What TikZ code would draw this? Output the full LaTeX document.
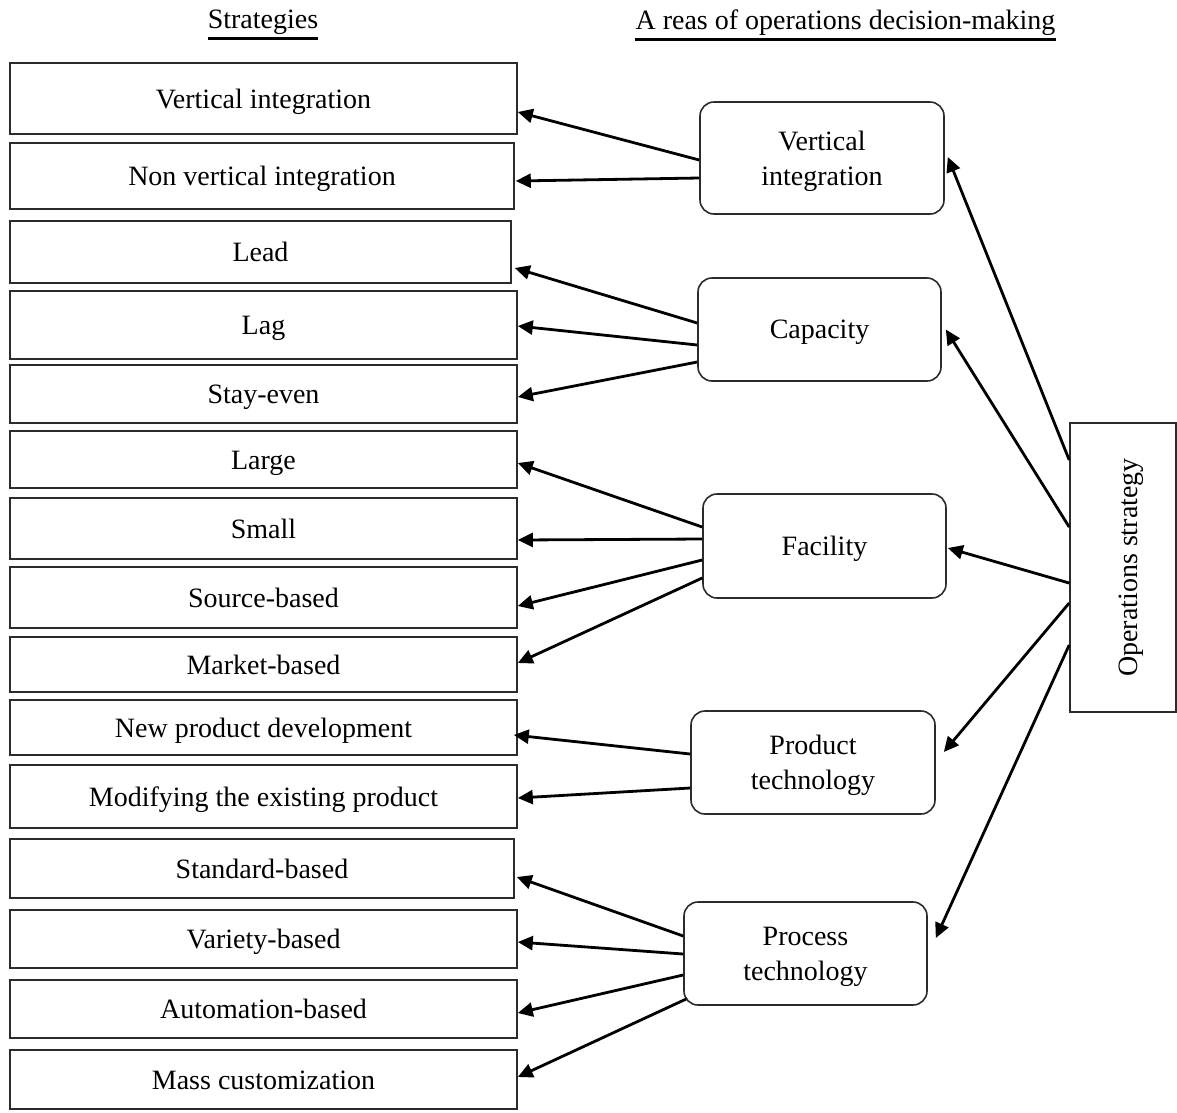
\documentclass[tikz,border=0pt]{standalone}
\usepackage{fontspec}
\setmainfont{Liberation Serif}
\usepackage{tikz}
\usetikzlibrary{positioning, arrows.meta, calc}
\definecolor{boxline}{HTML}{2b2b2b}
\newcommand{\txtsize}{\fontsize{28}{35}\selectfont}

\begin{document}
\begin{tikzpicture}[x=1pt, y=-1pt, sbox/.style={draw=boxline, line width=1.6pt, minimum width=507pt, inner sep=0pt, text height=19pt, text depth=0pt, font=\txtsize}, abox/.style={draw=boxline, line width=1.6pt, rounded corners=14pt, minimum width=243pt, minimum height=103pt, align=center, inner sep=0pt, text depth=0pt, font=\txtsize}, hdr/.style={inner sep=0pt, font=\txtsize}, arr/.style={-{Triangle[length=15pt, width=14pt]}, line width=2.8pt}]
\useasboundingbox (0,0) rectangle (1177,1112);
\node[hdr] (hs) at (263,22.5) {Strategies};
\node[hdr] (ha) at (845.5,22.5) {A reas of operations decision-making};
\draw[line width=2.6pt] ($(hs.base west)+(0,10)$) -- ($(hs.base east)+(0,10)$); \draw[line width=2.6pt] ($(ha.base west)+(0,10)$) -- ($(ha.base east)+(0,10)$);
\node[sbox, minimum height=71pt] (s1) at (263.5,98.5) {Vertical integration};
\node[sbox, minimum height=66pt, minimum width=504pt] (s2) at (262,176) {Non vertical integration};
\node[sbox, minimum height=62pt, minimum width=501pt] (s3) at (260.5,252) {Lead};
\node[sbox, minimum height=68pt] (s4) at (263.5,325) {Lag};
\node[sbox, minimum height=58pt] (s5) at (263.5,394) {Stay-even};
\node[sbox, minimum height=57pt] (s6) at (263.5,459.5) {Large};
\node[sbox, minimum height=61pt] (s7) at (263.5,528.5) {Small};
\node[sbox, minimum height=61pt] (s8) at (263.5,597.5) {Source-based};
\node[sbox, minimum height=55pt] (s9) at (263.5,664.5) {Market-based};
\node[sbox, minimum height=55pt] (s10) at (263.5,727.5) {New product development};
\node[sbox, minimum height=63pt] (s11) at (263.5,796.5) {Modifying the existing product};
\node[sbox, minimum height=59pt, minimum width=504pt] (s12) at (262,868.5) {Standard-based};
\node[sbox, minimum height=58pt] (s13) at (263.5,939) {Variety-based};
\node[sbox, minimum height=58pt] (s14) at (263.5,1009) {Automation-based};
\node[sbox, minimum height=59pt] (s15) at (263.5,1079.5) {Mass customization};
\node[abox, minimum height=112pt, minimum width=244pt] (vi) at (822,158) {Vertical\\integration};
\node[abox] (cap) at (819.5,329.5) {Capacity};
\node[abox, minimum height=104pt] (fac) at (824.5,546) {Facility};
\node[abox, minimum width=244pt] (prod) at (813,762.5) {Product\\technology};
\node[abox] (proc) at (805.5,953.5) {Process\\technology};
\node[draw=boxline, line width=1.6pt, minimum width=106pt, minimum height=289pt, inner sep=0pt, font=\txtsize] (ops) at (1123,567.5) {\hspace{10pt}\rotatebox{90}{\raisebox{0pt}[\height][0pt]{Operations strategy}}};
\draw[arr] ($(vi.west)+(0,2)$) -- ($(s1.east)+(0,13.5)$); \draw[arr] ($(vi.west)+(0,20)$) -- ($(s2.east)+(1,5)$);
\draw[arr] ($(cap.west)+(0,-6.5)$) -- ($(s3.east)+(3,16)$); \draw[arr] ($(cap.west)+(0,15.5)$) -- ($(s4.east)+(0,1)$); \draw[arr] ($(cap.west)+(0,32.5)$) -- ($(s5.east)+(0,3)$);
\draw[arr] ($(fac.west)+(0,-19)$) -- ($(s6.east)+(0,3.5)$); \draw[arr] ($(fac.west)+(0,-7)$) -- ($(s7.east)+(0,11.5)$); \draw[arr] ($(fac.west)+(0,14)$) -- ($(s8.east)+(0,8.5)$); \draw[arr] ($(fac.west)+(0,32)$) -- ($(s9.east)+(0,-1.5)$);
\draw[arr] ($(prod.west)+(0,-8.5)$) -- ($(s10.east)+(-4,7.5)$); \draw[arr] ($(prod.west)+(0,25.5)$) -- ($(s11.east)+(0,1.5)$);
\draw[arr] ($(proc.west)+(0,-17.5)$) -- ($(s12.east)+(2,8.5)$); \draw[arr] ($(proc.west)+(0,0.5)$) -- ($(s13.east)+(0,3)$); \draw[arr] ($(proc.west)+(0,21.5)$) -- ($(s14.east)+(0,4)$); \draw[arr] ($(proc.west)+(3,45.5)$) -- ($(s15.east)+(0,-2.5)$);
\draw[arr] ($(ops.west)+(0,-107.5)$) -- ($(vi.east)+(3,-1)$); \draw[arr] ($(ops.west)+(0,-40.5)$) -- ($(cap.east)+(4,0)$); \draw[arr] ($(ops.west)+(0,15.5)$) -- ($(fac.east)+(1,2)$); \draw[arr] ($(ops.west)+(0,35.5)$) -- ($(prod.east)+(8,-10.5)$); \draw[arr] ($(ops.west)+(0,77.5)$) -- ($(proc.east)+(8,-15.5)$);
\end{tikzpicture}
\end{document}
